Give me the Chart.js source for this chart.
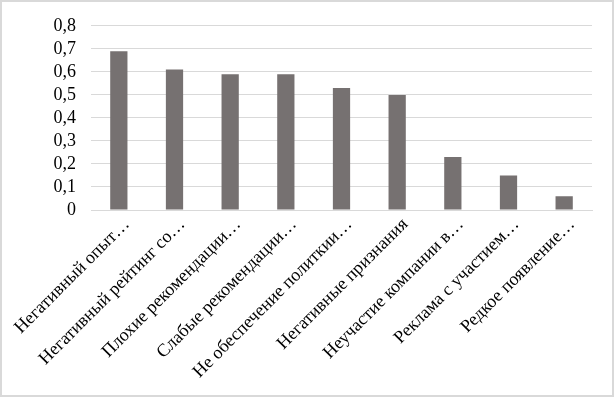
<!DOCTYPE html>
<html lang="ru">

<head>
    <meta charset="UTF-8">
    <title>Bar chart</title>
    <script src="https://cdn.jsdelivr.net/npm/chart.js"></script>
    <style>
        html, body { margin: 0; padding: 0; background: #fff; }
        #wrap { position: relative; width: 615px; height: 398px; }
        #frame {
            position: absolute; left: 0; top: 0; width: 614px; height: 397px;
            box-sizing: border-box; border: 2px solid #d9d9d9; pointer-events: none;
        }
    </style>
</head>

<body>
    <div id="wrap">
        <canvas id="barChart" width="615" height="398"></canvas>
        <div id="frame"></div>
    </div>

    <script>
        // categories (labels are truncated in the source, kept as shown)
        const categories = [
            'Негативный опыт…',
            'Негативный рейтинг со…',
            'Плохие рекомендации…',
            'Слабые рекомендации…',
            'Не обеспечение политкии…',
            'Негативные признания',
            'Неучастие компании в…',
            'Реклама с участием…',
            'Редкое появление…'
        ];
        const values = [0.69, 0.61, 0.59, 0.59, 0.53, 0.50, 0.23, 0.15, 0.06];
        const yTicks = [0, 0.1, 0.2, 0.3, 0.4, 0.5, 0.6, 0.7, 0.8];

        Chart.defaults.font.family = "'Liberation Serif', 'Times New Roman', serif";
        Chart.defaults.font.size = 18;
        Chart.defaults.color = '#000';

        const ctx = document.getElementById('barChart').getContext('2d');
        new Chart(ctx, {
            type: 'bar',
            data: {
                labels: categories,
                datasets: [{
                    data: values,
                    backgroundColor: '#767171',
                    borderWidth: 0,
                    categoryPercentage: 1,
                    barPercentage: 0.31
                }]
            },
            options: {
                responsive: false,
                animation: false,
                layout: { padding: { left: 0, right: 23, top: 23, bottom: 0 } },
                plugins: {
                    legend: { display: false },
                    tooltip: { enabled: false }
                },
                scales: {
                    x: {
                        grid: { display: false, drawTicks: false },
                        border: { color: '#d9d9d9' },
                        ticks: {
                            minRotation: 45,
                            maxRotation: 45,
                            autoSkip: false,
                            padding: 4,
                            labelOffset: 8
                        },
                        afterFit: scale => { scale.height = 188; }
                    },
                    y: {
                        min: yTicks[0],
                        max: yTicks[yTicks.length - 1],
                        grid: { color: '#d9d9d9', drawTicks: false },
                        border: { display: false },
                        afterBuildTicks: scale => {
                            scale.ticks = yTicks.map(v => ({ value: v }));
                        },
                        ticks: {
                            autoSkip: false,
                            padding: 15,
                            callback: v => v === 0 ? '0' : v.toFixed(1).replace('.', ',')
                        },
                        afterFit: scale => { scale.width = 91; }
                    }
                }
            }
        });
    </script>
</body>

</html>
